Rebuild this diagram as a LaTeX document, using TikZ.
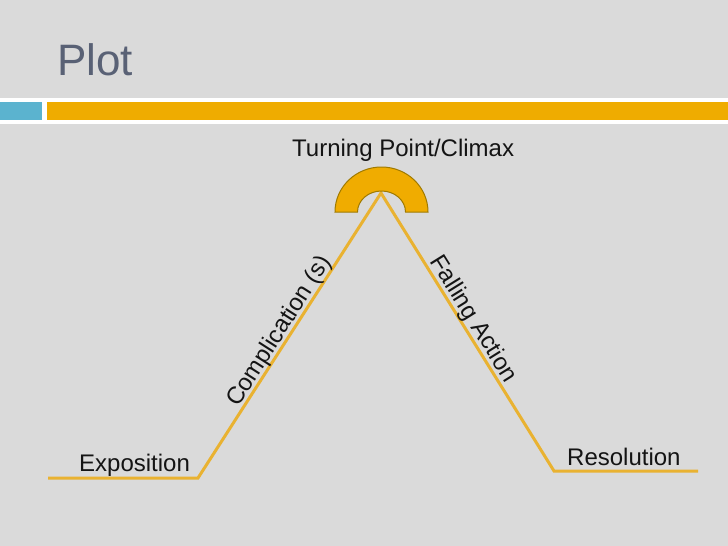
\documentclass[tikz,border=0pt]{standalone}
\usepackage{fontspec}
\setmainfont{Liberation Sans}
\definecolor{bg}{HTML}{DADADA}
\definecolor{gold}{HTML}{E9B231}
\definecolor{archfill}{HTML}{F0AC00}
\definecolor{archedge}{HTML}{A07A00}
\definecolor{barblue}{HTML}{5BB3CF}
\definecolor{barorange}{HTML}{EFAC00}
\definecolor{titlegray}{HTML}{596175}
\definecolor{textblack}{HTML}{141414}
\begin{document}
\begin{tikzpicture}[x=1pt,y=-1pt,
  plotline/.style={draw=gold,line width=3pt,line join=miter},
  label/.style={font=\fontsize{24}{24}\selectfont,text=textblack,inner sep=0pt},
  titletext/.style={font=\fontsize{44}{44}\selectfont,text=titlegray,inner sep=0pt}]
\fill[bg] (0,0) rectangle (728,546);
\useasboundingbox (0,0) rectangle (728,546);
% header bars
\fill[white] (0,98) rectangle (728,123.5);
\fill[barblue] (0,101.7) rectangle (41.7,120);
\fill[barorange] (46.7,101.7) rectangle (728,120);
\node[titletext,anchor=base west] (title) at (57,75) {Plot};
% plot line
\coordinate (s) at (48,478);
\coordinate (c1) at (198,478);
\coordinate (peak) at (381,193);
\coordinate (r1) at (554,471);
\coordinate (e) at (698,471);
\draw[plotline] (s) -- (c1) -- (peak) -- (r1) -- (e);
% arch
\fill[archfill,draw=archedge,line width=1pt]
  (335,212) arc[start angle=180,end angle=360,x radius=46.5,y radius=45]
  -- (405.5,212) arc[start angle=0,end angle=-180,x radius=24,y radius=21] -- cycle;
% labels
\node[label,anchor=base west] (climax) at (292,156) {Turning Point/Climax};
\node[label,anchor=base west] (expo) at (79,471) {Exposition};
\node[label,anchor=base west] (reso) at (567,465) {Resolution};
\path (c1) -- (peak) node[label,pos=0.494,sloped,anchor=south,yshift=-1pt] (comp) {Complication (s)};
\path (peak) -- (r1) node[label,pos=0.476,sloped,anchor=south] (fall) {Falling Action};
\end{tikzpicture}
\end{document}
